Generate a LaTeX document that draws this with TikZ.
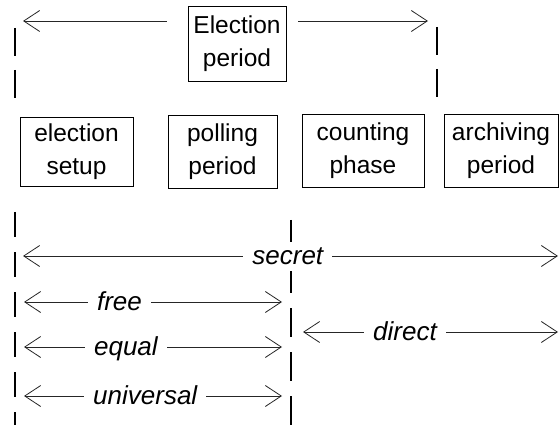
\documentclass[tikz,border=0pt]{standalone}
\usepackage{fontspec}
\setmainfont{Liberation Sans}
\usetikzlibrary{arrows.meta}

\begin{document}
\begin{tikzpicture}[
  x=1pt, y=-1pt,
  phase/.style={draw, line width=0.8pt, align=center, inner sep=0pt,
    font=\fontsize{24.5}{33}\selectfont},
  barb/.style={draw=black!85, line width=0.8pt, -{Straight Barb[length=16pt,width=21pt]}},
  dim/.style={draw=black!85, line width=0.8pt,
    {Straight Barb[length=16pt,width=21pt]}-{Straight Barb[length=16pt,width=21pt]}},
  lbl/.style={fill=white, inner xsep=9pt, inner ysep=6pt, text height=17pt, text depth=0pt,
    font=\fontsize{26}{30}\selectfont\itshape},
  border/.style={line width=2pt, dash pattern=on 28pt off 14pt}
]
\useasboundingbox (0,0) rectangle (560,425);

% phases of an election:
\node[phase, minimum width=98pt, minimum height=75pt] (period) at (237,43.5) {Election\\period};
\node[phase, minimum width=113pt, minimum height=69pt] (setup) at (76.5,151.5) {election\\setup};
\node[phase, minimum width=109pt, minimum height=73pt] (polling) at (222.5,151.5) {polling\\period};
\node[phase, minimum width=122pt, minimum height=73pt] (counting) at (363,150.5) {counting\\phase};
\node[phase, minimum width=114pt, minimum height=73pt] (archiving) at (501,150.5) {archiving\\period};

% borders:
\coordinate (tl1) at (15,28);  \coordinate (tl2) at (15,103);
\coordinate (tr1) at (437,27); \coordinate (tr2) at (437,103);
\coordinate (bl1) at (15,212); \coordinate (bl2) at (15,425);
\coordinate (bm1) at (291,220); \coordinate (bm2) at (291,425);
\draw[border] (tl1) -- (tl2);
\draw[border] (tr1) -- (tr2);
\draw[border, dash pattern=on 25pt off 15pt] (bl1) -- (bl2);
\draw[border, dash pattern=on 29pt off 15pt] (bm1) -- (bm2);

% election period:
\coordinate (tl) at (23,21);
\coordinate (tr) at (428,21);
\draw[barb, shorten <=21pt] (period.west |- tl) -- (tl);
\draw[barb, shorten <=12pt] (period.east |- tr) -- (tr);

% principles:
\coordinate (s1) at (23,256);  \coordinate (s2) at (558,256);
\coordinate (f1) at (24,302);  \coordinate (f2) at (282,302);
\coordinate (e1) at (24,347);  \coordinate (e2) at (282,347);
\coordinate (u1) at (24,396);  \coordinate (u2) at (282,396);
\coordinate (d1) at (303,332); \coordinate (d2) at (558,332);
\draw[dim] (s1) -- (s2) node[lbl, pos=0.495] (secret) {secret};
\draw[dim] (f1) -- (f2) node[lbl, pos=0.37] (free) {free};
\draw[dim] (e1) -- (e2) node[lbl, pos=0.395] (equal) {equal};
\draw[dim] (u1) -- (u2) node[lbl, pos=0.47] (universal) {universal};
\draw[dim] (d1) -- (d2) node[lbl, pos=0.40] (direct) {direct};
\end{tikzpicture}
\end{document}
